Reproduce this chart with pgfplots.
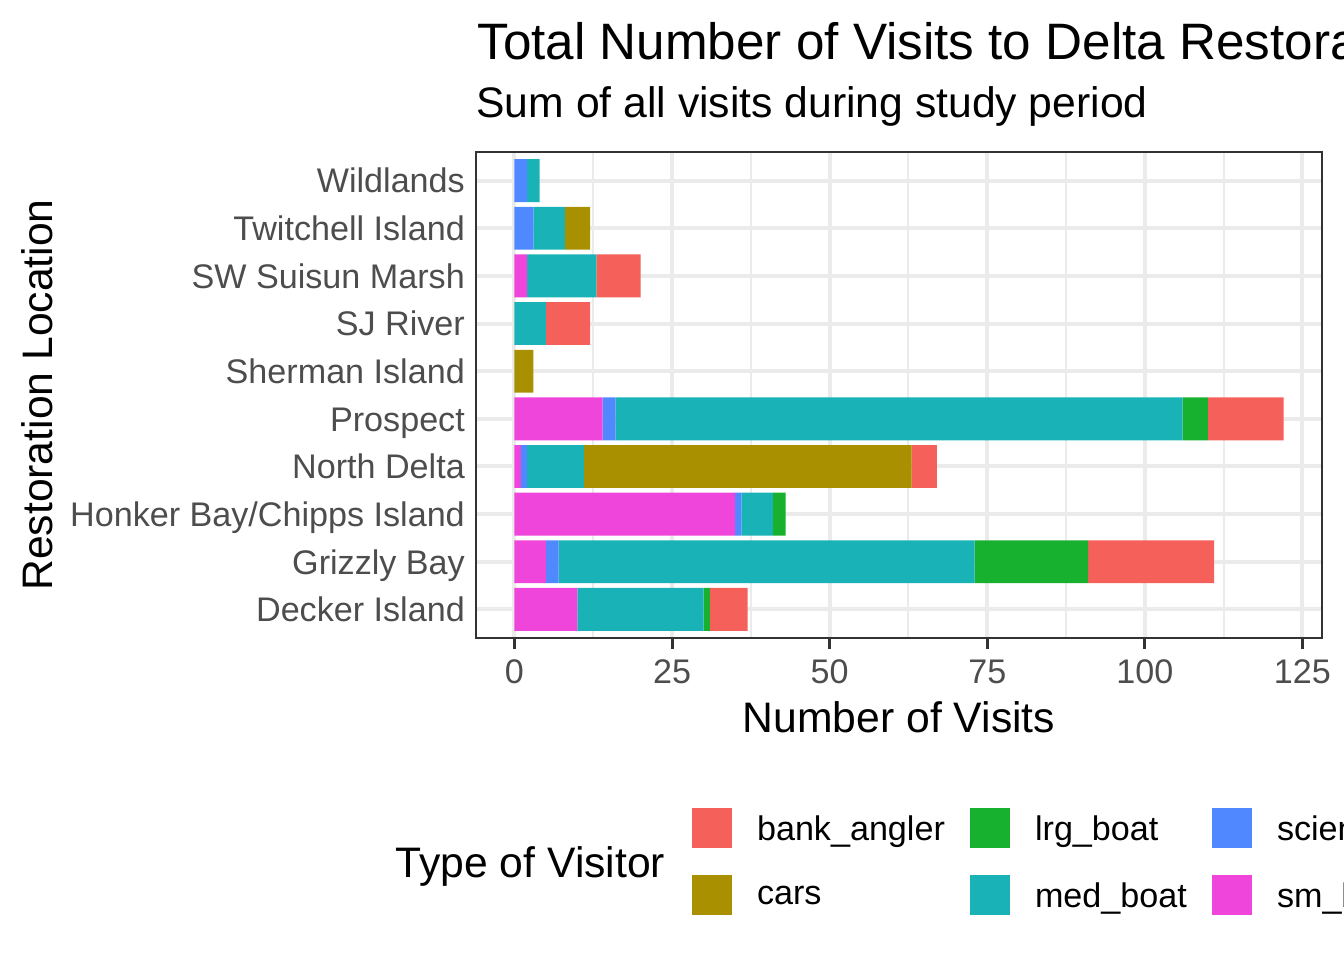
\documentclass[border=0pt]{standalone}
\usepackage{pgfplots}
\usepackage{pgfplotstable}
\pgfplotsset{compat=1.18}
\usepackage{fontspec}
\setmainfont{Liberation Sans}
\definecolor{cBank}{HTML}{F5605A}
\definecolor{cCars}{HTML}{A89000}
\definecolor{cLrg}{HTML}{18B12F}
\definecolor{cMed}{HTML}{19B3B7}
\definecolor{cSci}{HTML}{5088FF}
\definecolor{cSm}{HTML}{F045DB}
\definecolor{gridc}{HTML}{EBEBEB}
\definecolor{g20}{HTML}{333333}
\definecolor{g30}{HTML}{4D4D4D}
\pgfplotstableread{
pos sm science med lrg cars bank
1 10 0 20 1 0 6
2 5 2 66 18 0 20
3 35 1 5 2 0 0
4 1 1 9 0 52 4
5 14 2 90 4 0 12
6 0 0 0 0 3 0
7 0 0 5 0 0 7
8 2 0 11 0 0 7
9 0 3 5 0 4 0
10 0 2 2 0 0 0
}\data
\begin{document}
\begin{tikzpicture}[x=0.375bp,y=-0.375bp]
\path[use as bounding box] (0,0) rectangle (1344,960);
\clip (0,0) rectangle (1344,960);
\node[anchor=base west, inner sep=0pt, font=\fontsize{19.2bp}{23bp}\selectfont] at (477,59) {Total Number of Visits to Delta Restoration Sites};
\node[anchor=base west, inner sep=0pt, font=\fontsize{16bp}{19bp}\selectfont] at (476,117) {Sum of all visits during study period};
\node[anchor=base, inner sep=0pt, font=\fontsize{16bp}{19bp}\selectfont] at (899,732) {Number of Visits};
\node[anchor=base, rotate=90, inner sep=0pt, font=\fontsize{16bp}{19bp}\selectfont] at (52,395) {Restoration Location};
\node[anchor=base west, inner sep=0pt, font=\fontsize{16bp}{19bp}\selectfont] at (395,877) {Type of Visitor};
\begin{axis}[at={(178.5bp,-239.25bp)}, anchor=south west,
  width=317.25bp, height=182.25bp, scale only axis,
  xbar stacked, bar width=0.9,
  xmin=-6.1, xmax=128.1, ymin=0.4, ymax=10.6,
  xtick={0,25,50,75,100,125}, xticklabels={0,25,50,75,100,125},
  minor xtick={12.5,37.5,62.5,87.5,112.5},
  ytick={1,...,10},
  yticklabels={Decker Island,Grizzly Bay,Honker Bay/Chipps Island,North Delta,Prospect,Sherman Island,SJ River,SW Suisun Marsh,Twitchell Island,Wildlands},
  xmajorgrids, ymajorgrids, xminorgrids,
  major grid style={color=gridc, line width=1.5bp},
  minor grid style={color=gridc, line width=0.75bp},
  axis line style={color=g20, line width=0.8bp},
  tick align=outside, tick pos=left,
  major tick length=4bp, minor tick length=0pt,
  xtick style={color=g20, line width=1.1bp},
  ytick style={draw=none},
  ticklabel style={font=\fontsize{12.8bp}{15bp}\selectfont, color=g30, inner sep=0pt},
  xticklabel style={anchor=base, yshift=-13.1bp},
  yticklabel style={anchor=base east, xshift=0bp, yshift=-4.6bp},
  legend style={at={(0.2553,-0.3498)}, anchor=north west, draw=none, fill=none,
    inner sep=0pt, outer sep=0pt, font=\fontsize{12.8bp}{15bp}\selectfont,
    column sep=9.4bp, row sep=10.1bp, nodes={inner sep=0pt}},
  legend columns=2, transpose legend, reverse legend, legend cell align=left,
  legend image code/.code={\path[#1, draw=none] (0bp,-6.75bp) rectangle (15bp,8.25bp);},
]
\addplot[fill=cSm, draw=none] table[x=sm, y=pos]{\data};
\addplot[fill=cSci, draw=none] table[x=science, y=pos]{\data};
\addplot[fill=cMed, draw=none] table[x=med, y=pos]{\data};
\addplot[fill=cLrg, draw=none] table[x=lrg, y=pos]{\data};
\addplot[fill=cCars, draw=none] table[x=cars, y=pos]{\data};
\addplot[fill=cBank, draw=none] table[x=bank, y=pos]{\data};
\legend{sm\_boat,science,med\_boat,lrg\_boat,cars,bank\_angler}
\end{axis}
\end{tikzpicture}
\end{document}
